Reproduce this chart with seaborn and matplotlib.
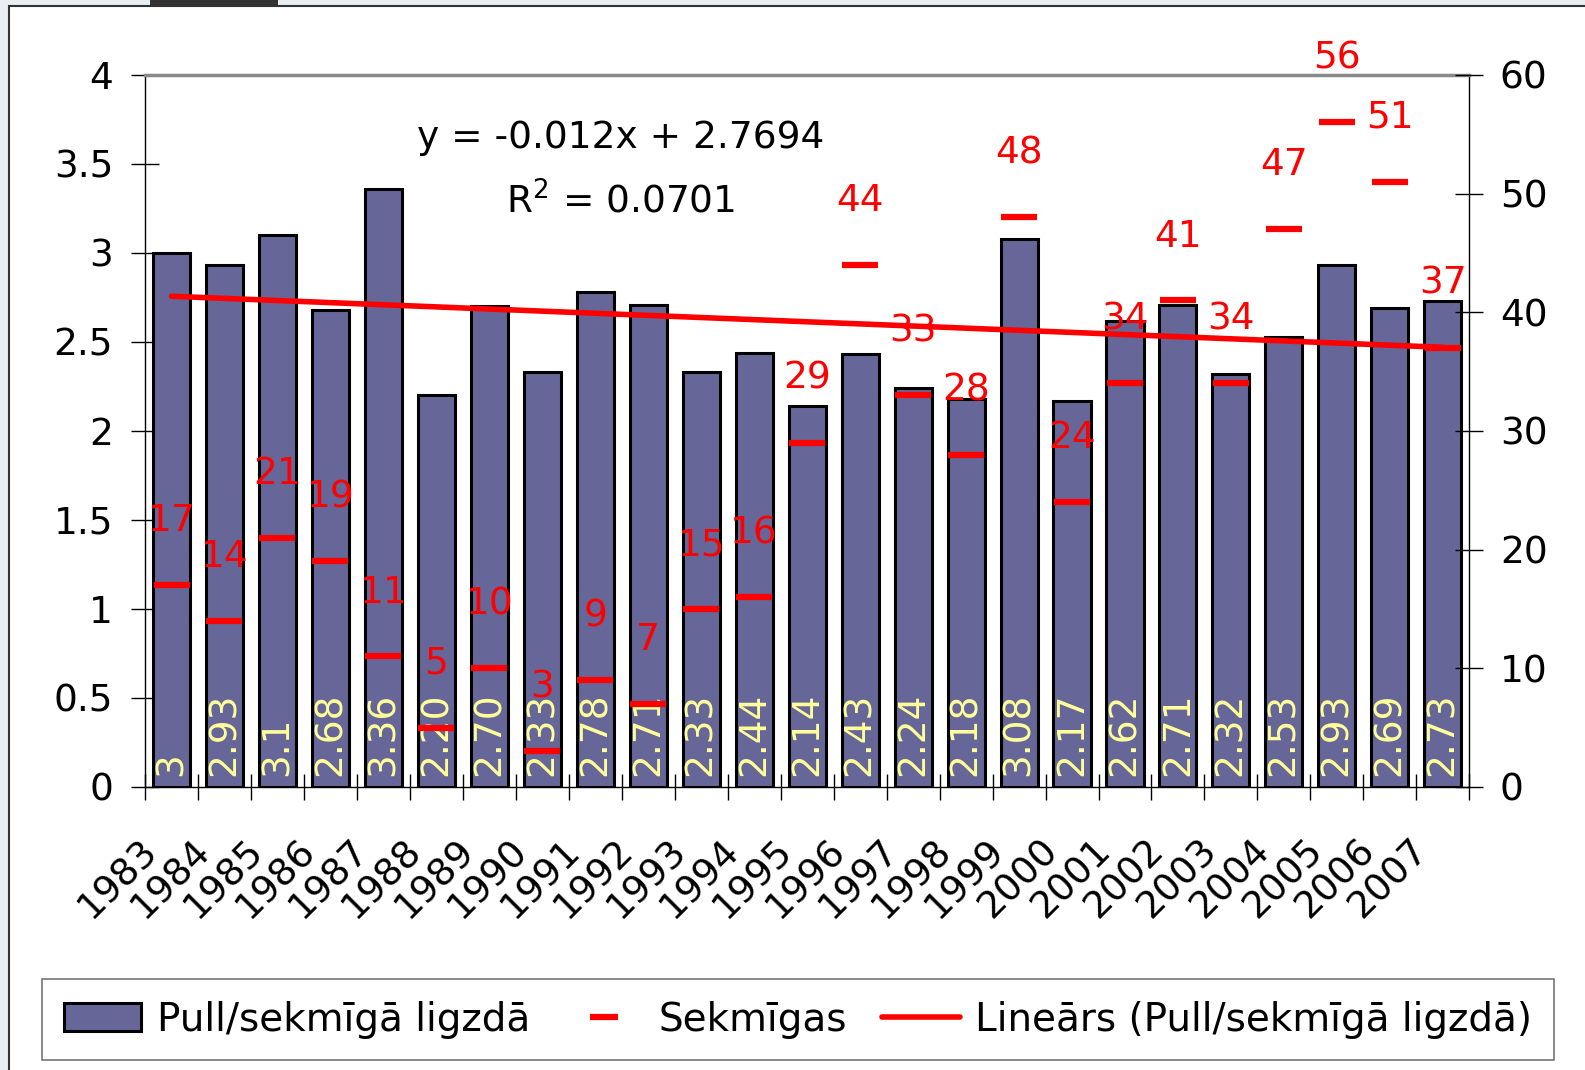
import numpy as np
import matplotlib
matplotlib.use("Agg")
import matplotlib.pyplot as plt
from matplotlib.patches import Patch, Rectangle
from matplotlib.lines import Line2D
from matplotlib.transforms import ScaledTranslation
import seaborn as sns

# --- data ---
years = [str(y) for y in range(1983, 2008)]
pull = [3.00, 2.93, 3.10, 2.68, 3.36, 2.20, 2.70, 2.33, 2.78, 2.71, 2.33, 2.44, 2.14,
        2.43, 2.24, 2.18, 3.08, 2.17, 2.62, 2.71, 2.32, 2.53, 2.93, 2.69, 2.73]
pull_labels = ["3", "2.93", "3.1", "2.68", "3.36", "2.20", "2.70", "2.33", "2.78", "2.71",
               "2.33", "2.44", "2.14", "2.43", "2.24", "2.18", "3.08", "2.17", "2.62",
               "2.71", "2.32", "2.53", "2.93", "2.69", "2.73"]
sekmigas = [17, 14, 21, 19, 11, 5, 10, 3, 9, 7, 15, 16, 29, 44, 33, 28, 48, 24, 34, 41,
            34, 47, 56, 51, 37]
left_ticks = [0, 0.5, 1, 1.5, 2, 2.5, 3, 3.5, 4]
left_tick_labels = ["0", "0.5", "1", "1.5", "2", "2.5", "3", "3.5", "4"]
right_ticks = [0, 10, 20, 30, 40, 50, 60]

BAR = "#666699"
FS = 27

sns.set_style("white")
plt.rcParams["font.family"] = ["DejaVu Sans"]
plt.rcParams["text.color"] = "black"
plt.rcParams["xtick.color"] = "black"
plt.rcParams["ytick.color"] = "black"

fig = plt.figure(figsize=(15.85, 10.7), dpi=100)
fig.patch.set_facecolor("#e8eef2")
fig.add_artist(Rectangle((9 / 1585, -0.01), 1.0, 1 - 6 / 1070 + 0.01, transform=fig.transFigure,
                         facecolor="white", edgecolor="#333333", lw=1.5, zorder=-10))
fig.add_artist(Rectangle((150 / 1585, 1 - 5 / 1070), 128 / 1585, 5 / 1070, transform=fig.transFigure,
                         facecolor="#333333", edgecolor="none", zorder=-9))

ax = fig.add_axes([0.0915, 0.2645, 0.927 - 0.0915, 0.930 - 0.2645])
ax.set_facecolor("none")

sns.barplot(x=years, y=pull, color=BAR, saturation=1, edgecolor="black", linewidth=2.2,
            width=0.7, ax=ax, zorder=2)

# linear trend (Excel style: x = 1..n)
xi = np.arange(1, len(pull) + 1)
slope, icpt = np.polyfit(xi, pull, 1)
ax.plot(np.arange(len(pull)), slope * xi + icpt, color="red", lw=4, zorder=4)

for i, lab in enumerate(pull_labels):
    ax.text(i, 0.06, lab, rotation=90, ha="center", va="bottom", color="#FFFF99",
            fontsize=FS, zorder=5)

ax.set_xlim(-0.5, len(years) - 0.5)
ax.set_ylim(0, 4)
ax.set_yticks(left_ticks)
ax.set_yticklabels(left_tick_labels, fontsize=FS)
ax.tick_params(axis="y", direction="inout", length=20, width=1, pad=13, left=True)

ax.set_xticks(np.arange(-0.5, len(years), 1))
ax.set_xticklabels([])
ax.tick_params(axis="x", which="major", direction="inout", length=19, width=1, bottom=True)
ax.set_xticks(np.arange(len(years)), minor=True)
ax.set_xticklabels(years, minor=True, rotation=45, ha="right", va="center",
                   rotation_mode="anchor", fontsize=FS)
ax.tick_params(axis="x", which="minor", length=0, pad=42)
shift = ScaledTranslation(-0.2, 0, fig.dpi_scale_trans)
for lab in ax.get_xticklabels(minor=True):
    lab.set_transform(lab.get_transform() + shift)
ax.set_xlabel("")

for side in ["left", "bottom", "right"]:
    ax.spines[side].set_color("black")
    ax.spines[side].set_linewidth(1)
ax.spines["top"].set_color("#888888")
ax.spines["top"].set_linewidth(2.5)

ax.text(0.359, 0.911, "y = -0.012x + 2.7694", transform=ax.transAxes, ha="center",
        va="center", fontsize=FS)
ax.text(0.359, 0.822, "R$^2$ = 0.0701", transform=ax.transAxes, ha="center",
        va="center", fontsize=FS)

# secondary axis: Sekmīgas
ax2 = ax.twinx()
ax2.plot(np.arange(len(sekmigas)), sekmigas, ls="none", marker="_", markersize=26,
         markeredgewidth=4.5, color="red", zorder=6)
for i, v in enumerate(sekmigas):
    ax2.annotate(str(v), (i, v), xytext=(0, 46), textcoords="offset points",
                 ha="center", va="center", color="red", fontsize=FS, annotation_clip=False)
ax2.set_ylim(0, 60)
ax2.set_yticks(right_ticks)
ax2.set_yticklabels([str(t) for t in right_ticks], fontsize=FS)
ax2.tick_params(axis="y", direction="inout", length=20, width=1, pad=12, right=True)
for sp in ax2.spines.values():
    sp.set_visible(False)

handles = [
    Patch(facecolor=BAR, edgecolor="black", linewidth=2.2),
    Line2D([], [], color="red", marker="_", ls="none", markersize=20, markeredgewidth=4.5),
    Line2D([], [], color="red", lw=4),
]
labels = ["Pull/sekmīgā ligzdā", "Sekmīgas", "Lineārs (Pull/sekmīgā ligzdā)"]
leg = fig.legend(handles, labels, loc="center", bbox_to_anchor=(0.5035, 0.047), ncol=3,
                 fontsize=FS + 1, frameon=True, fancybox=False, edgecolor="#555555",
                 handlelength=2.0, handleheight=0.7, handletextpad=0.4, columnspacing=0.9,
                 borderpad=0.55, borderaxespad=0)
leg.get_frame().set_linewidth(1.2)

fig.savefig("out.png", dpi=100, facecolor=fig.get_facecolor())
